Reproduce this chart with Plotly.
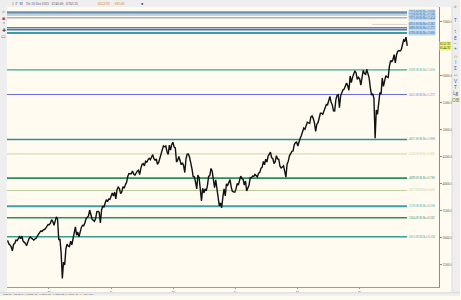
import plotly.graph_objects as go
import pandas as pd

# ---------------- data ----------------
start_week = "2019-05-03"
closes_2019 = [2945, 2881, 2860, 2826, 2752, 2873, 2887, 2950, 2942, 2990, 3014, 2977, 3025,
               2932, 2918, 2888, 2847, 2926, 2979, 3007, 2992, 2961, 2952, 2970, 2986, 3023,
               3067, 3093, 3120, 3110, 3141, 3146, 3169, 3221, 3240]
closes_2020 = [3235, 3265, 3330, 3295, 3226, 3328, 3380, 3338, 2954, 2972, 2711, 2240, 2541,
               2489, 2790, 2875, 2837, 2831, 2930, 2864, 2955, 3044, 3194, 3041, 3098, 3009,
               3130, 3185, 3225, 3216, 3271, 3351, 3373, 3397, 3508, 3427, 3341, 3319, 3298,
               3348, 3477, 3484, 3465, 3270, 3510, 3585, 3558, 3638, 3699, 3663, 3709, 3703, 3756]
closes_2021 = [3825, 3768, 3841, 3714, 3887, 3934, 3907, 3811, 3842, 3943, 3913, 3975, 4020,
               4129, 4185, 4180, 4181, 4233, 4174, 4156, 4204, 4230, 4247, 4166, 4281, 4352,
               4370, 4327, 4412, 4395, 4437, 4468, 4442, 4509, 4535, 4459, 4433, 4455, 4357,
               4391, 4471, 4545, 4605, 4697, 4682, 4698, 4595, 4538, 4712, 4620, 4725, 4766]
closes_2022 = [4677, 4662, 4398, 4432, 4500, 4418, 4349, 4385, 4329, 4204, 4463, 4543, 4546,
               4488, 4393, 4272, 4132, 4123, 4024, 3901, 4158, 4109, 3901, 3675, 3912, 3825,
               3899, 3863, 3962, 4130, 4145, 4280, 4228, 4058, 3924, 4067, 3873, 3693, 3586,
               3640, 3550, 3752, 3901, 3771, 3993, 3965, 4026, 4072, 3934, 3852, 3845, 3840]
closes_2023 = [3895, 3999, 3973, 4071, 4136, 4090, 4079, 3970, 4046, 3862, 3917, 3971, 4109,
               4105, 4138, 4133, 4169, 4136, 4124, 4192, 4205, 4282, 4299, 4410, 4348, 4450,
               4399, 4505, 4536, 4582, 4478, 4464, 4370, 4406, 4516, 4457, 4450, 4320, 4288,
               4308, 4327, 4224, 4117, 4358, 4415, 4514, 4559, 4595, 4604, 4719, 4755, 4770]
closes_2024 = [4697, 4784, 4840, 4891, 4959, 5027, 5006, 5089, 5137, 5124, 5117, 5234, 5254,
               5204, 5123, 4967, 5100, 5128, 5223, 5303, 5305, 5278, 5347, 5432, 5465, 5460,
               5567, 5615, 5505, 5459, 5346, 5344, 5554, 5634, 5648, 5408, 5626, 5703, 5738,
               5751, 5815, 5864, 5808, 5729, 5995, 5870, 5969, 6032, 6090, 6051, 5930, 5970]
closes_2025 = [5942, 5827, 5997, 6101, 6041, 6026, 6115, 6013, 5955, 5770, 5639, 5667, 5581,
               4840, 5363, 5283, 5525, 5687, 5660, 5958, 5803, 5912, 6000, 5977, 5968, 6173,
               6280, 6260, 6297, 6389, 6238, 6389, 6450, 6467, 6460, 6482, 6584, 6664, 6644,
               6716, 6553]

year_ticks = ["2020-01-01", "2021-01-01", "2022-01-01", "2023-01-01", "2024-01-01", "2025-01-01"]
year_labels = ["20", "21", "22", "23", "24", "25"]

price_ticks = [2500, 3000, 3500, 4000, 4500, 5000, 5500, 6000, 6500, 7000]
price_labels = ["2500.00", "3000.00", "3500.00", "4000.00", "4500.00", "5000.00", "5500.00", "6000.00", "", "7000.00"]

level_prices = [7174, 7128, 7073, 6951, 6890, 6854, 6790, 6109, 5651, 4817, 4548, 4099, 3871, 3578, 3364, 3011]
level_ratios = ["2.618", "2.500", "2.414", "2.382", "2.272", "", "2.000", "1.618", "1.272",
                "1.000", "0.886", "0.786", "0.618", "0.500", "0.382", "0.236"]
last_price = 6552.92

# ---------------- styling ----------------
level_colors = ['#6f8fb0', '#a9c9dc', '#aab4bc', '#c8c8c8', '#5f7fae', '#4f6fbf', '#3b9c9c', '#3fa596',
                '#6d6dd8', '#2f8f8f', '#cdd3a6', '#2e8b5c', '#bccf98', '#3f9fa6', '#2f8b68', '#3a9a8c']
level_widths = [2.5, 1.5, 1.5, 0.8, 1.5, 1.5, 2, 1.2, 1, 1.6, 1, 1.6, 1, 2, 1.6, 1.6]
level_x0 = [7, 7, 7, 373, 7, 7, 7, 7, 7, 7, 7, 7, 7, 7, 7, 7]
level_boxed = [True, True, True, True, True, True, True] + [False] * 9

W, H = 461, 300
L, R, T, B = 7, 440, 7, 291
FONT = "Liberation Sans Narrow"


def px(x):
    return (x - L) / (R - L)


def py(y):
    return (B - y) / (B - T)


closes = closes_2019 + closes_2020 + closes_2021 + closes_2022 + closes_2023 + closes_2024 + closes_2025
dates = pd.date_range(start_week, periods=len(closes), freq="W-FRI")

fig = go.Figure()
fig.add_trace(go.Scatter(x=dates, y=closes, mode="lines",
                         line=dict(color="#111111", width=1.4), hoverinfo="skip", showlegend=False))

shapes = []
annotations = []

# level lines and labels
for p, r, c, w, x0, boxed in zip(level_prices, level_ratios, level_colors, level_widths, level_x0, level_boxed):
    shapes.append(dict(type="line", xref="paper", yref="y", x0=px(x0), x1=px(408), y0=p, y1=p,
                       line=dict(color=c, width=w), layer="below"))
    if r:
        annotations.append(dict(xref="paper", yref="y", x=px(409), y=p, xanchor="left", yanchor="middle",
                                text=f"{p:.2f} Bi Ret {r}", showarrow=False,
                                font=dict(size=3, color=("#2a5a9a" if boxed else c), family=FONT),
                                bgcolor=("#bcd8ee" if boxed else "rgba(0,0,0,0)"), borderpad=0))

# frame panels (toolbars, status bar)
panel = "#eeeeee"
shapes += [
    dict(type="rect", xref="paper", yref="paper", x0=px(0), x1=px(W), y0=py(7), y1=py(0),
         fillcolor=panel, line=dict(width=0), layer="above"),
    dict(type="rect", xref="paper", yref="paper", x0=px(0), x1=px(7), y0=py(300), y1=py(0),
         fillcolor=panel, line=dict(width=0), layer="above"),
    dict(type="rect", xref="paper", yref="paper", x0=px(453), x1=px(W), y0=py(300), y1=py(0),
         fillcolor=panel, line=dict(width=0), layer="above"),
    dict(type="rect", xref="paper", yref="paper", x0=px(0), x1=px(W), y0=py(300), y1=py(296.8),
         fillcolor=panel, line=dict(width=0), layer="above"),
    dict(type="line", xref="paper", yref="paper", x0=px(0), x1=px(W), y0=py(296.8), y1=py(296.8),
         line=dict(color="#c8c8c8", width=0.6)),
    dict(type="line", xref="paper", yref="paper", x0=px(453), x1=px(453), y0=py(296.8), y1=py(7),
         line=dict(color="#cccccc", width=0.6)),
]

# top info bar
annotations.append(dict(xref="paper", yref="paper", x=px(10), y=py(3.5), xanchor="left", yanchor="middle",
                        showarrow=False, text="1  F  M    Fri 10 Oct 2025   6740.60   6762.35",
                        font=dict(size=3.6, color="#555555", family=FONT)))
annotations.append(dict(xref="paper", yref="paper", x=px(96), y=py(3.5), xanchor="left", yanchor="middle",
                        showarrow=False, text="6552.92    -182.60",
                        font=dict(size=3.6, color="#d9772a", family=FONT)))
annotations.append(dict(xref="paper", yref="paper", x=px(143), y=py(3.5), xanchor="center", yanchor="middle",
                        showarrow=False, text="●", font=dict(size=4, color="#222222")))
# bottom status bar
annotations.append(dict(xref="paper", yref="paper", x=px(1), y=py(298.6), xanchor="left", yanchor="middle",
                        showarrow=False,
                        text="Mon 26 Aug 2019 | O 2866.70 | H 2879.27 | L 2856.00 | C 2878.38 | V 1.25 | 2D |",
                        font=dict(size=2.8, color="#444444", family=FONT)))
# left toolbar icons
for yy, col, ch in [(11, "#666666", "⌕"), (18, "#cc3333", "■"), (24, "#666666", "⌃"), (30, "#555555", "✚"),
                    (36, "#777777", "▭")]:
    annotations.append(dict(xref="paper", yref="paper", x=px(3.5), y=py(yy), xanchor="center", yanchor="middle",
                            showarrow=False, text=ch, font=dict(size=5, color=col)))
# right toolbar icons
for yy, col, ch in [(6, "#333333", "⌕"), (20, "#3355aa", "T"), (31, "#3355aa", "↕"), (38, "#3355aa", "E"),
                    (44, "#999933", "~"), (50, "#3355aa", "+"), (57, "#cc2222", "∩"), (63, "#338833", "I"),
                    (69, "#3355aa", "Σ"), (75, "#3355aa", "↔"), (82, "#3355aa", "V"), (88, "#3355aa", "T"),
                    (94, "#555555", "Lg"), (101, "#338833", "OB")]:
    annotations.append(dict(xref="paper", yref="paper", x=px(457), y=py(yy), xanchor="center", yanchor="middle",
                            showarrow=False, text=ch, font=dict(size=5, color=col)))
# current price marker on axis
annotations.append(dict(xref="paper", yref="y", x=px(440.5), y=last_price, xanchor="left", yanchor="middle",
                        showarrow=False, text=f"{last_price:.2f}<br>{last_price - 8:.2f}",
                        font=dict(size=3.2, color="#333333", family=FONT),
                        bgcolor="#f6f56a", borderpad=0))

y_top = 7000 + (22 - T) * 18.29
y_bot = 7000 - (B - 22) * 18.29
d0 = pd.Timestamp("2020-01-01")
x_left = d0 - pd.Timedelta(days=(49 - L) / 62.2 * 365.25)
x_right = d0 + pd.Timedelta(days=(R - 49) / 62.2 * 365.25)

fig.update_layout(
    width=W, height=H,
    margin=dict(l=L, r=W - R, t=T, b=H - B),
    paper_bgcolor="#fffbf0", plot_bgcolor="#fffbf0",
    shapes=shapes, annotations=annotations, showlegend=False,
    xaxis=dict(range=[x_left, x_right], showgrid=False, zeroline=False, showline=True,
               linecolor="#9a9a9a", linewidth=0.8, ticks="outside", ticklen=1, tickcolor="#9a9a9a",
               tickvals=year_ticks, ticktext=year_labels,
               tickfont=dict(size=2.8, color="#555555", family=FONT)),
    yaxis=dict(range=[y_bot, y_top], side="right", showgrid=False, zeroline=False, showline=True,
               linecolor="#8a8a8a", linewidth=0.8, ticks="outside", ticklen=2, tickcolor="#8a8a8a",
               tickvals=price_ticks, ticktext=price_labels,
               tickfont=dict(size=3.5, color="#555555", family=FONT)),
)

fig.write_html("out.html")
